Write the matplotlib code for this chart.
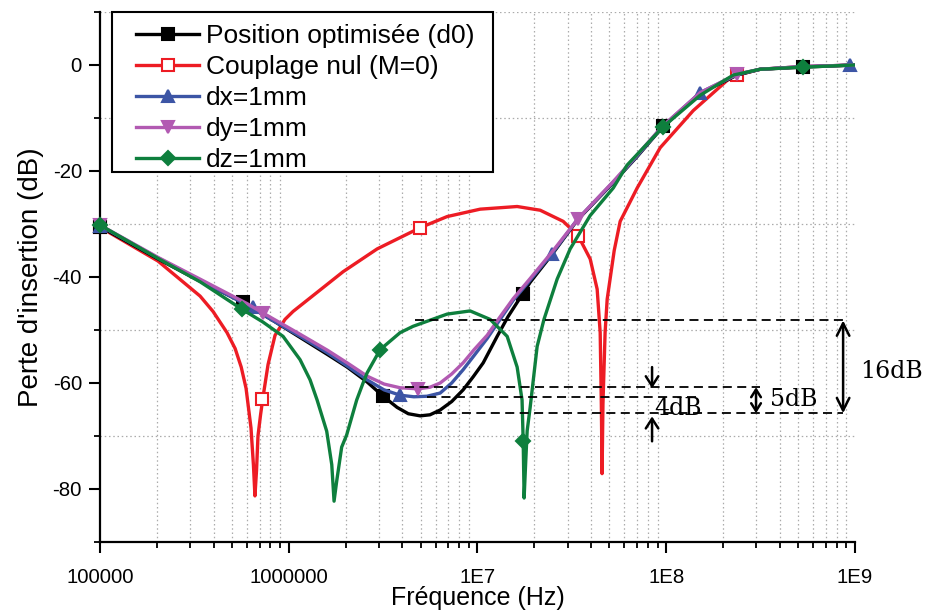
import matplotlib
matplotlib.use('Agg')
import matplotlib.pyplot as plt
from matplotlib.lines import Line2D
from matplotlib.patches import Rectangle
from matplotlib.ticker import FixedLocator, LogLocator, NullFormatter, MultipleLocator

plt.rcParams['font.family'] = ['Liberation Sans', 'DejaVu Sans']
plt.rcParams['axes.unicode_minus'] = False

# ---------------- data ----------------
series_labels = ["Position optimisée (d0)", "Couplage nul (M=0)", "dx=1mm", "dy=1mm", "dz=1mm"]

f_d0 = [1e5, 2.03e5, 3.39e5, 5.73e5, 8.5e5, 1.148e6, 1.6e6, 2.04e6, 2.6e6, 3.162e6, 3.75e6,
        4.3e6, 4.97e6, 5.6e6, 6.34e6, 7.3e6, 8.39e6, 9.5e6, 1.072e7, 1.271e7, 1.45e7, 1.622e7,
        1.901e7, 2.5e7, 3.373e7, 5.236e7, 7.0e7, 9.51e7, 1.514e8, 2.377e8, 3.148e8, 5.31e8, 1e9]
db_d0 = [-30.5, -36.6, -40.8, -44.8, -48.5, -51.4, -54.6, -57.0, -59.8, -62.5, -64.6,
         -65.8, -66.2, -66.0, -65.1, -63.5, -61.3, -58.8, -56.2, -51.2, -47.5, -44.8,
         -41.0, -35.6, -29.3, -22.2, -17.3, -11.8, -5.3, -1.9, -0.8, -0.4, 0.0]
mf_d0 = [1e5, 5.73e5, 3.162e6, 1.746e7, 9.64e7, 5.32e8]
mdb_d0 = [-30.5, -44.8, -62.5, -43.2, -11.6, -0.4]

f_m0 = [1e5, 2.03e5, 3.39e5, 3.97e5, 4.71e5, 5.2e5, 5.6e5, 5.94e5, 6.31e5, 6.50e5, 6.62e5,
        6.75e5, 6.87e5, 7.09e5, 7.31e5, 7.77e5, 8.46e5, 9.55e5, 1.054e6, 1.413e6, 1.941e6,
        2.94e6, 4.97e6, 6.90e6, 1.033e7, 1.622e7, 2.148e7, 2.844e7, 3.412e7, 3.954e7, 4.305e7,
        4.467e7, 4.53e7, 4.571e7, 4.62e7, 4.742e7, 4.864e7, 5.3e7, 5.7e7, 7.015e7, 9.29e7,
        1.39e8, 2.104e8, 2.377e8, 3.148e8, 5.31e8, 1e9]
db_m0 = [-30.6, -37.0, -43.6, -46.5, -50.5, -53.5, -57.0, -61.0, -68.5, -75.5, -81.3,
         -76.5, -70.0, -66.0, -62.6, -56.5, -51.0, -48.0, -46.5, -42.9, -39.0,
         -34.7, -30.7, -28.6, -27.2, -26.7, -27.4, -29.5, -32.2, -36.6, -42.3,
         -50.5, -64.0, -77.1, -64.0, -50.5, -44.2, -35.0, -29.5, -23.2, -15.6,
         -8.6, -2.9, -1.9, -0.8, -0.3, 0.0]
mf_m0 = [1e5, 7.25e5, 4.97e6, 3.412e7, 2.377e8]
mdb_m0 = [-30.6, -63.0, -30.7, -32.2, -1.9]

f_dx = [1e5, 2.03e5, 3.39e5, 6.0e5, 8.5e5, 1.148e6, 1.6e6, 2.04e6, 2.6e6, 3.2e6, 3.89e6,
        4.6e6, 5.4e6, 6.34e6, 7.3e6, 8.39e6, 9.6e6, 1.125e7, 1.3e7, 1.545e7, 1.9e7, 2.518e7,
        3.373e7, 5.236e7, 7.0e7, 9.51e7, 1.514e8, 2.377e8, 3.148e8, 5.31e8, 1e9]
db_dx = [-30.3, -36.4, -40.6, -45.3, -48.5, -51.2, -54.3, -56.8, -59.4, -61.3, -62.3,
         -62.6, -62.5, -61.9, -60.0, -57.5, -54.8, -51.6, -48.3, -44.4, -40.6, -35.3,
         -29.2, -22.1, -17.2, -11.7, -5.2, -1.8, -0.8, -0.3, 0.0]
mf_dx = [1e5, 6.47e5, 3.89e6, 2.48e7, 1.514e8, 9.44e8]
mdb_dx = [-30.3, -45.7, -62.3, -35.6, -5.2, 0.0]

f_dy = [1e5, 2.03e5, 3.39e5, 6.0e5, 7.31e5, 1.148e6, 1.6e6, 2.04e6, 2.6e6, 3.2e6, 3.89e6,
        4.84e6, 5.6e6, 6.34e6, 7.3e6, 8.39e6, 9.6e6, 1.125e7, 1.3e7, 1.545e7, 1.9e7, 2.518e7,
        3.412e7, 5.236e7, 7.0e7, 9.51e7, 1.514e8, 2.377e8, 3.148e8, 5.31e8, 1e9]
db_dy = [-30.2, -36.3, -40.4, -45.0, -46.8, -50.8, -53.8, -56.2, -58.7, -60.2, -60.9,
         -61.1, -60.8, -60.0, -58.3, -56.2, -53.7, -51.0, -47.8, -44.1, -40.3, -35.0,
         -29.0, -22.0, -17.0, -11.6, -5.2, -1.7, -0.8, -0.3, 0.0]
mf_dy = [1e5, 7.31e5, 4.84e6, 3.412e7, 2.377e8]
mdb_dy = [-30.2, -46.8, -61.1, -29.0, -1.7]

f_dz = [1e5, 2.03e5, 3.39e5, 5.66e5, 7.3e5, 9.33e5, 1.148e6, 1.297e6, 1.413e6, 1.589e6,
        1.690e6, 1.738e6, 1.795e6, 1.907e6, 2.027e6, 2.291e6, 2.476e6, 2.60e6, 3.05e6,
        3.89e6, 4.56e6, 6.90e6, 9.14e6, 1.167e7, 1.436e7, 1.622e7, 1.722e7, 1.746e7,
        1.766e7, 1.80e7, 1.833e7, 1.901e7, 2.07e7, 2.25e7, 2.642e7, 3.097e7, 3.954e7,
        5.24e7, 6.2e7, 9.6e7, 1.514e8, 2.265e8, 3.148e8, 5.31e8, 1e9]
db_dz = [-30.2, -36.5, -40.9, -46.1, -48.5, -51.2, -55.6, -59.4, -63.2, -69.1,
         -75.4, -82.3, -78.5, -72.1, -69.8, -63.2, -60.0, -58.1, -53.7,
         -50.5, -49.3, -47.0, -46.4, -48.0, -51.2, -57.0, -63.2, -70.9,
         -81.7, -75.0, -69.0, -64.6, -53.1, -48.0, -40.4, -34.7, -28.4,
         -23.2, -18.9, -11.7, -5.7, -1.9, -0.8, -0.4, 0.0]
mf_dz = [1e5, 5.66e5, 3.05e6, 1.746e7, 9.6e7, 5.31e8]
mdb_dz = [-30.2, -46.1, -53.7, -70.9, -11.7, -0.4]

xtick_vals = [1e5, 1e6, 1e7, 1e8, 1e9]
xtick_labels = ["100000", "1000000", "1E7", "1E8", "1E9"]
ytick_vals = [0, -20, -40, -60, -80]

# annotation levels (dB)
lvl_dz = -48.2
lvl_dy = -60.8
lvl_dx = -62.7
lvl_d0 = -65.7

# ---------------- plot ----------------
fig = plt.figure(figsize=(9.26, 6.14), dpi=100)
ax = fig.add_axes([100/926, 1-542/614, 755/926, 530/614])

colors = ['#000000', '#ed1c24', '#3c55a5', '#b25ab2', '#0e7f3d']
mk = ['s', 's', '^', 'v', 'D']
mfc = ['#000000', 'white', '#3c55a5', '#b25ab2', '#0e7f3d']
msz = [8, 8, 9, 9, 7.5]
lw = 2.4

data = [(f_d0, db_d0, mf_d0, mdb_d0), (f_m0, db_m0, mf_m0, mdb_m0),
        (f_dx, db_dx, mf_dx, mdb_dx), (f_dy, db_dy, mf_dy, mdb_dy),
        (f_dz, db_dz, mf_dz, mdb_dz)]
zord = [3, 2, 4, 5, 6]
for i, (f, d, mf, md) in enumerate(data):
    ax.plot(f, d, color=colors[i], lw=lw, zorder=zord[i], solid_joinstyle='round')
    ax.plot(mf, md, ls='none', marker=mk[i], ms=msz[i], mfc=mfc[i], mec=colors[i],
            mew=1.5, zorder=zord[i] + 0.5, clip_on=False)

ax.set_xscale('log')
ax.set_xlim(1e5, 1e9)
ax.set_ylim(-90, 10)

ax.xaxis.set_major_locator(FixedLocator(xtick_vals))
ax.set_xticklabels(xtick_labels)
ax.xaxis.set_minor_locator(LogLocator(base=10, subs=[2, 3, 4, 5, 6, 7, 8, 9], numticks=20))
ax.xaxis.set_minor_formatter(NullFormatter())
ax.yaxis.set_major_locator(FixedLocator(ytick_vals))
ax.yaxis.set_minor_locator(MultipleLocator(10))

ax.tick_params(which='major', direction='out', length=8, width=1.5, labelsize=14.7)
ax.tick_params(axis='x', which='major', pad=11)
ax.tick_params(axis='y', which='major', pad=5)
ax.tick_params(which='minor', direction='out', length=4.5, width=1.3)
for s in ['top', 'right']:
    ax.spines[s].set_visible(False)
for s in ['left', 'bottom']:
    ax.spines[s].set_linewidth(1.6)

ax.grid(False, which='major')
ax.grid(True, which='minor', ls=(0, (1.2, 2.2)), color='#ababab', lw=0.9)
ax.set_axisbelow(True)

ax.set_xlabel("Fréquence (Hz)", fontsize=18, labelpad=-1)
ax.set_ylabel("Perte d'insertion (dB)", fontsize=20, labelpad=6)

# dashed reference lines
dash = dict(color='black', lw=1.3, ls=(0, (5, 3)), zorder=7)
ax.plot([4.67e6, 8.87e8], [lvl_dz, lvl_dz], **dash)
ax.plot([4.13e6, 3.15e8], [lvl_dy, lvl_dy], **dash)
ax.plot([5.41e6, 1.51e8], [lvl_dx, lvl_dx], **dash)
ax.plot([5.82e6, 8.6e8], [lvl_d0, lvl_d0], **dash)

arr = dict(color='black', lw=1.8, shrinkA=0, shrinkB=0)
# 16 dB
ax.annotate('', xy=(8.65e8, lvl_dz), xytext=(8.65e8, lvl_d0),
            arrowprops=dict(arrowstyle='<->,head_length=0.9,head_width=0.45', **arr),
            annotation_clip=False, zorder=8)
ax.text(1.066e9, -57.9, '16dB', family='DejaVu Serif', fontsize=17, va='center', ha='left',
        clip_on=False)
# 5 dB
ax.annotate('', xy=(2.99e8, lvl_dy), xytext=(2.99e8, lvl_d0),
            arrowprops=dict(arrowstyle='<->,head_length=0.55,head_width=0.35', **arr),
            annotation_clip=False, zorder=8)
ax.text(3.56e8, -63.2, '5dB', family='DejaVu Serif', fontsize=17, va='center', ha='left')
# 4 dB
ax.annotate('', xy=(8.41e7, -61.0), xytext=(8.41e7, -57.0),
            arrowprops=dict(arrowstyle='->,head_length=0.7,head_width=0.45', **arr), zorder=8)
ax.annotate('', xy=(8.41e7, -66.3), xytext=(8.41e7, -71.0),
            arrowprops=dict(arrowstyle='->,head_length=0.7,head_width=0.45', **arr), zorder=8)
ax.text(8.63e7, -64.8, '4dB', family='DejaVu Serif', fontsize=17, va='center', ha='left',
        zorder=9)

# legend: frame drawn separately, entries placed inside
ax.add_patch(Rectangle((12/755, 370/530), 381/755, 160/530, transform=ax.transAxes,
                       facecolor='white', edgecolor='black', lw=1.5, zorder=9.5,
                       clip_on=False))
handles = [Line2D([], [], color=colors[i], lw=lw, marker=mk[i], ms=msz[i], mfc=mfc[i],
                  mec=colors[i], mew=1.5) for i in range(5)]
leg = ax.legend(handles, series_labels, loc='upper left', bbox_to_anchor=(36/755, 1 - 12/530),
                fontsize=19, frameon=False,
                handlelength=2.4, handletextpad=0.25, labelspacing=0.27, borderpad=0.0,
                borderaxespad=0.0, numpoints=1)
leg.set_zorder(10)

fig.savefig('out.png', dpi=100)
